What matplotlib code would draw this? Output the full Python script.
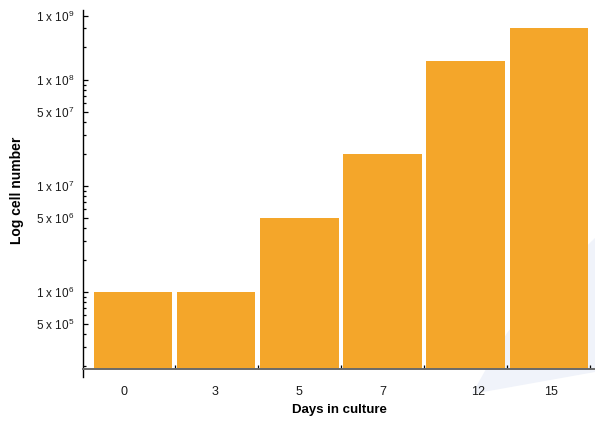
import numpy as np
import matplotlib
matplotlib.use('Agg')
import matplotlib.pyplot as plt
import matplotlib.transforms as mtransforms
from matplotlib.patches import Polygon
from matplotlib.ticker import FixedLocator, FixedFormatter, NullFormatter

plt.rcParams['font.family'] = ['Liberation Sans', 'DejaVu Sans']
plt.rcParams['mathtext.fontset'] = 'custom'
plt.rcParams['mathtext.rm'] = 'Liberation Sans'
plt.rcParams['mathtext.it'] = 'Liberation Sans:italic'
plt.rcParams['mathtext.bf'] = 'Liberation Sans:bold'

days = ['0', '3', '5', '7', '12', '15']
cells = [1e6, 1e6, 5e6, 2e7, 2e8, 6.5e8]

major_vals = [5e5, 1e6, 5e6, 1e7, 5e7, 1e8, 1e9]
major_labels = [r'5 x 10$^{5}$', r'1 x 10$^{6}$', r'5 x 10$^{6}$', r'1 x 10$^{7}$',
                r'5 x 10$^{7}$', r'1 x 10$^{8}$', r'1 x 10$^{9}$']
minor_vals = [2e5, 3e5, 4e5, 6e5, 7e5, 8e5, 9e5,
              2e6, 3e6, 4e6, 6e6, 7e6, 8e6, 9e6,
              2e7, 3e7, 4e7, 6e7, 7e7, 8e7, 9e7,
              3.3e8, 6.5e8]

# horizontal nudges (pixels) of the day labels
label_shift = [-9, -1, -1, 0, 13, 2]

baseline = 1.88e5
bar_color = '#f4a62a'

# log axis, with the decade above 1e8 squeezed
K = 0.604


def fwd(v):
    t = np.log10(np.clip(np.asarray(v, dtype=float), 1e-300, None))
    return np.where(t <= 8, t, 8 + (t - 8) * K)


def inv(t):
    t = np.asarray(t, dtype=float)
    return np.where(t <= 8, 10 ** t, 10 ** (8 + (t - 8) / K))


W, H = 595, 424
fig = plt.figure(figsize=(W / 100, H / 100), dpi=100)

# faint backdrop shape in the lower right corner
shape = [(472, 394), (490, 362), (507, 333), (530, 305), (560, 272), (595, 238),
         (595, 372)]
fig.patches.append(Polygon([(x / W, 1 - y / H) for x, y in shape], closed=True,
                           transform=fig.transFigure, facecolor='#f0f3fa',
                           edgecolor='none', zorder=-1))

ax = fig.add_axes([82.5 / W, 47 / H, 1 - 82.5 / W, 367 / H])
ax.set_zorder(1)
ax.patch.set_alpha(0)
ax.set_yscale('function', functions=(fwd, inv))

x = np.arange(len(days))
ax.bar(x, np.array(cells) - baseline, bottom=baseline, width=0.94,
       color=bar_color, zorder=2)

ax.set_xlim(-0.614, 5.56)
ax.set_ylim(float(inv(5.198)), float(inv(8.660)))

for s in ['top', 'right']:
    ax.spines[s].set_visible(False)
ax.spines['bottom'].set_position(('data', baseline))
ax.spines['bottom'].set_color('#6a6a6a')
ax.spines['bottom'].set_linewidth(1.4)
ax.spines['bottom'].set_zorder(3)
ax.spines['left'].set_linewidth(1.0)

ax.xaxis.set_major_locator(FixedLocator(x))
ax.xaxis.set_major_formatter(FixedFormatter(days))
ax.xaxis.set_minor_locator(FixedLocator(x + 0.5))
ax.tick_params(axis='x', which='major', length=0, pad=12, labelsize=9,
               labelcolor='#1a1a1a')
ax.tick_params(axis='x', which='minor', direction='in', length=3, width=0.9,
               color='black')
for lab, dx in zip(ax.get_xticklabels(), label_shift):
    lab.set_transform(lab.get_transform() +
                      mtransforms.ScaledTranslation(dx / 100, 0, fig.dpi_scale_trans))

ax.yaxis.set_major_locator(FixedLocator(major_vals))
ax.yaxis.set_major_formatter(FixedFormatter(major_labels))
ax.yaxis.set_minor_locator(FixedLocator(minor_vals))
ax.yaxis.set_minor_formatter(NullFormatter())
ax.tick_params(axis='y', which='major', direction='in', length=3.6, width=0.9,
               pad=6, labelsize=8.5, labelcolor='#1a1a1a')
ax.tick_params(axis='y', which='minor', direction='in', length=2, width=0.9)

fig.text(339.5 / W, 1 - 410 / H, 'Days in culture', ha='center', va='center',
         fontsize=9.5, fontweight='bold')
fig.text(17 / W, 1 - 190 / H, 'Log cell number', ha='center', va='center',
         rotation=90, fontsize=10, fontweight='bold')

fig.savefig('out.png', dpi=100)
